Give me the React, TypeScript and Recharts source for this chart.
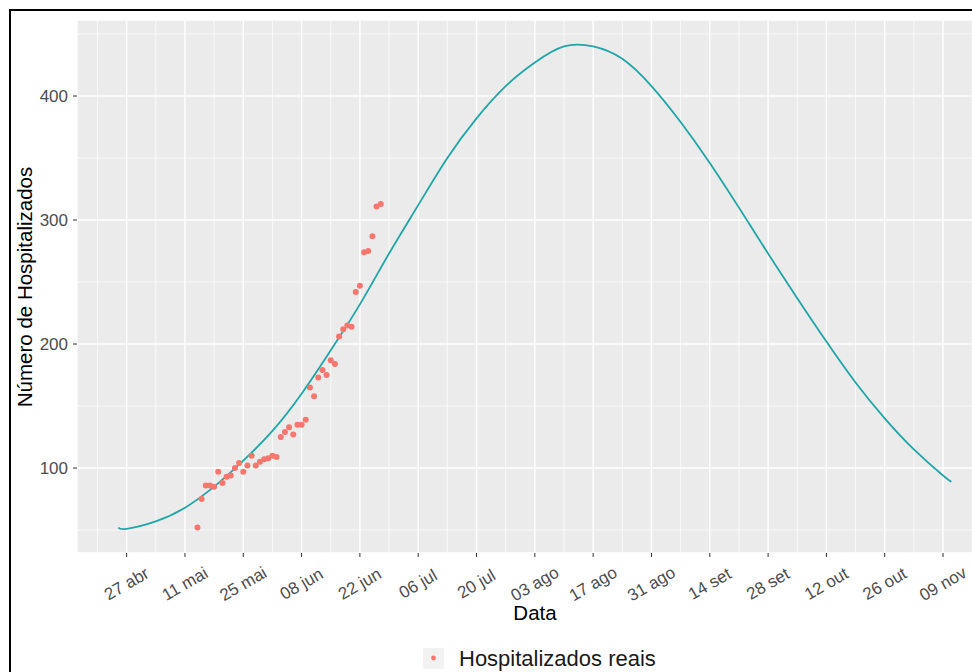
import React from 'react';
import {
  ComposedChart,
  Line,
  Scatter,
  XAxis,
  YAxis,
  CartesianGrid,
  ReferenceLine,
} from 'recharts';

// days counted from 27 abr
const curveDays = [-2, 0, 7, 14, 21, 28, 35, 42, 49, 56, 63, 70, 77, 84, 91, 98, 105, 112, 119, 126, 133, 140, 147, 154, 161, 168, 175, 182, 189, 196, 198];
const curveValues = [52, 51, 57, 68, 85, 106, 130, 160, 195, 232, 273, 312, 350, 382, 408, 427, 440, 440, 430, 408, 379, 346, 310, 273, 237, 202, 169, 140, 115, 94, 89];

const obsDays = [17, 18, 19, 20, 21, 22, 23, 24, 25, 26, 27, 28, 29, 30, 31, 32, 33, 34, 35, 36, 37, 38, 39, 40, 41, 42, 43, 44, 45, 46, 47, 48, 49, 50, 51, 52, 53, 54, 55, 56, 57, 58, 59, 60, 61];
const obsValues = [52, 75, 86, 86, 85, 97, 88, 93, 94, 100, 104, 97, 102, 110, 102, 105, 107, 108, 110, 109, 125, 129, 133, 127, 135, 135, 139, 165, 158, 173, 179, 175, 187, 184, 206, 212, 215, 214, 242, 247, 274, 275, 287, 311, 313];

const tickDays = [0, 14, 28, 42, 56, 70, 84, 98, 112, 126, 140, 154, 168, 182, 196];
const tickLabels = ['27 abr', '11 mai', '25 mai', '08 jun', '22 jun', '06 jul', '20 jul', '03 ago', '17 ago', '31 ago', '14 set', '28 set', '12 out', '26 out', '09 nov'];
const minorDays = [-7, 7, 21, 35, 49, 63, 77, 91, 105, 119, 133, 147, 161, 175, 189, 203];

const yTicks = [100, 200, 300, 400];
const yMinor = [50, 150, 250, 350, 450];

const curve = curveDays.map((d, i) => ({ x: d, y: curveValues[i] }));
const obs = obsDays.map((d, i) => ({ x: d, y: obsValues[i] }));

const FONT = '"Liberation Sans", Arial, sans-serif';

const DateTick = (props: any) => {
  const { x, y, payload } = props;
  const i = tickDays.indexOf(payload.value);
  return (
    <g transform={`translate(${x},${y + 25})`}>
      <text
        transform="rotate(-30)"
        textAnchor="middle"
        dominantBaseline="central"
        fontSize={17}
        fill="#4d4d4d"
        fontFamily={FONT}
      >
        {tickLabels[i]}
      </text>
    </g>
  );
};

export default function App() {
  return (
    <div
      style={{
        position: 'fixed',
        left: 0,
        top: 0,
        width: 972,
        height: 672,
        overflow: 'hidden',
        background: '#fff',
        fontFamily: FONT,
      }}
    >
      <div
        style={{
          position: 'absolute',
          left: 9,
          top: 9,
          width: 2000,
          height: 2000,
          borderTop: '2px solid #000',
          borderLeft: '2px solid #000',
        }}
      />
      <div style={{ position: 'absolute', left: 0, top: 0 }}>
        <ComposedChart width={1000} height={672} margin={{ top: 20, right: 7, left: 0, bottom: 0 }}>
          <CartesianGrid fill="#ebebeb" stroke="#ffffff" strokeWidth={1.4} />
          {minorDays.map((d) => (
            <ReferenceLine key={`vx${d}`} x={d} stroke="#ffffff" strokeWidth={0.7} ifOverflow="hidden" />
          ))}
          {yMinor.map((v) => (
            <ReferenceLine key={`hy${v}`} y={v} stroke="#ffffff" strokeWidth={0.7} ifOverflow="hidden" />
          ))}
          <XAxis
            dataKey="x"
            type="number"
            domain={[-11.92, 208]}
            allowDataOverflow
            ticks={tickDays}
            tick={<DateTick />}
            tickSize={4}
            tickLine={{ stroke: '#333' }}
            axisLine={false}
            height={119}
            interval={0}
          />
          <YAxis
            type="number"
            domain={[31.5, 461.3]}
            allowDataOverflow
            ticks={yTicks}
            tick={{ fontSize: 17, fill: '#4d4d4d', fontFamily: FONT }}
            tickSize={4}
            tickMargin={5}
            tickLine={{ stroke: '#333' }}
            axisLine={false}
            width={77}
          />
          <Line
            data={curve}
            dataKey="y"
            type="natural"
            stroke="#1fa6a8"
            strokeWidth={1.8}
            dot={false}
            isAnimationActive={false}
          />
          <Scatter
            data={obs}
            dataKey="y"
            fill="#F8766D"
            isAnimationActive={false}
            shape={(p: any) => <circle cx={p.cx} cy={p.cy} r={3} fill="#F8766D" />}
          />
        </ComposedChart>
      </div>
      <svg style={{ position: 'absolute', left: 0, top: 0 }} width={972} height={672}>
        <text
          transform="translate(31.5,287) rotate(-90)"
          textAnchor="middle"
          fontSize={20.5}
          fill="#000"
          fontFamily={FONT}
        >
          Número de Hospitalizados
        </text>
        <text x={535} y={620} textAnchor="middle" fontSize={20.5} fill="#000" fontFamily={FONT}>
          Data
        </text>
        <rect x={423} y={648} width={21} height={21} fill="#f2f2f2" />
        <circle cx={433.5} cy={658} r={2.4} fill="#F8766D" />
        <text x={459} y={666} fontSize={22} fill="#1a1a1a" fontFamily={FONT}>
          Hospitalizados reais
        </text>
      </svg>
    </div>
  );
}
